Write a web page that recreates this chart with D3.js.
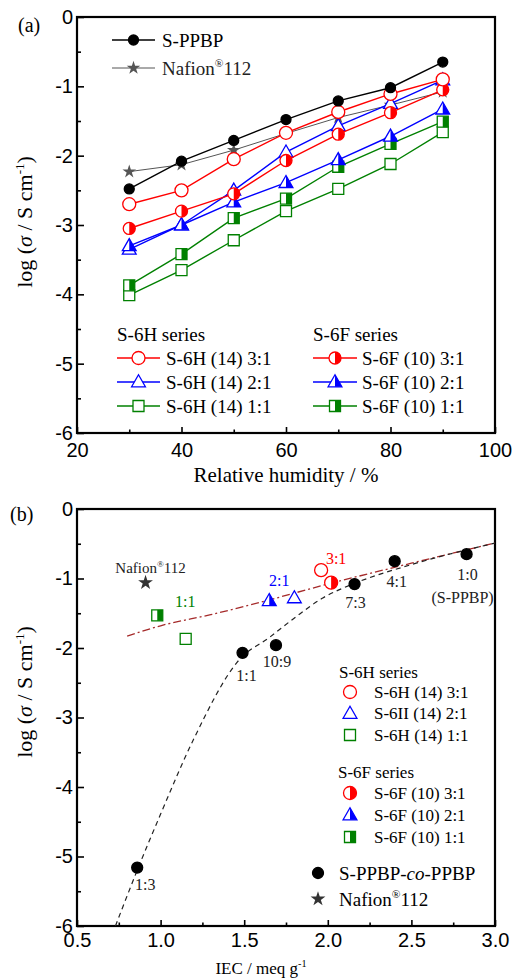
<!DOCTYPE html>
<html>
<head>
<meta charset="utf-8">
<script src="https://cdn.jsdelivr.net/npm/d3@7"></script>
<style>
  body { margin: 0; background: #fff; }
  svg { display: block; }
</style>
</head>
<body>
<script>
// ---- panel (a): conductivity vs relative humidity ----
const rh = [30, 40, 50, 60, 70, 80, 90];
const sPPBP = [-2.48, -2.08, -1.78, -1.48, -1.21, -1.02, -0.65];
const nafionA = [-2.23, -2.13, -1.92, -1.68, -1.45, -1.27, -1.08];
const h31 = [-2.70, -2.50, -2.05, -1.67, -1.37, -1.11, -0.90];
const f31 = [-3.05, -2.80, -2.55, -2.07, -1.69, -1.38, -1.05];
const h21 = [-3.35, -3.00, -2.50, -1.95, -1.57, -1.25, -0.91];
const f21 = [-3.30, -3.00, -2.67, -2.39, -2.06, -1.72, -1.33];
const h11 = [-4.01, -3.65, -3.22, -2.80, -2.48, -2.12, -1.66];
const f11 = [-3.87, -3.42, -2.90, -2.62, -2.16, -1.83, -1.51];

// ---- panel (b): conductivity vs IEC ----
const coRatio = ['1:3', '1:1', '10:9', '7:3', '4:1', '1:0'];
const coIEC = [0.86, 1.49, 1.69, 2.16, 2.40, 2.83];
const coLog = [-5.16, -2.07, -1.96, -1.08, -0.75, -0.65];
const hRatio = ['3:1', '2:1', '1:1'];
const hIEC = [1.96, 1.80, 1.15];
const hLog = [-0.88, -1.28, -1.87];
const fIEC = [2.02, 1.65, 0.98];
const fLog = [-1.06, -1.32, -1.53];
const nafionIEC = 0.91;
const nafionLog = -1.06;
// fit curves
const fitCoIEC = [0.73, 0.86, 1.0, 1.2, 1.47, 1.65, 1.81, 1.97, 2.16, 2.5, 3.0];
const fitCoLog = [-6.0, -5.2, -4.39, -3.3, -2.17, -1.85, -1.55, -1.28, -1.07, -0.8, -0.49];
const fitSeIEC = [0.8, 1.0, 1.3, 1.6, 2.0, 2.5, 3.0];
const fitSeLog = [-1.83, -1.68, -1.52, -1.34, -1.08, -0.78, -0.49];

const RED = '#ff0000', BLUE = '#0000ff', GREEN = '#008000';
const W = 512, H = 980;

const svg = d3.select('body').append('svg')
  .attr('width', W).attr('height', H)
  .style('font-family', '"Liberation Serif", "Times New Roman", serif');

const shapePath = {
  circle: r => `M${-r},0A${r},${r} 0 1,0 ${r},0A${r},${r} 0 1,0 ${-r},0Z`,
  triangle: r => `M0,${-r * 1.2}L${r * 1.15},${r * 0.8}L${-r * 1.15},${r * 0.8}Z`,
  square: r => `M${-r},${-r}H${r}V${r}H${-r}Z`
};
const halfPath = {
  circle: r => `M0,${-r}A${r},${r} 0 0,1 0,${r}Z`,
  triangle: r => `M0,${-r * 1.2}L${r * 1.15},${r * 0.8}L0,${r * 0.8}Z`,
  square: r => `M0,${-r}H${r}V${r}H0Z`
};

function marker(g, x, y, shape, color, fill, r) {
  let m = g.append('g').attr('transform', `translate(${x},${y})`);
  if (shape === 'star') {
    m.append('path').attr('d', d3.symbol(d3.symbolStar, r * r * 1.9)())
      .attr('fill', color);
    return;
  }
  m.append('path').attr('d', shapePath[shape](r))
    .attr('fill', fill === 'full' ? color : '#fff');
  if (fill === 'half') {
    m.append('path').attr('d', halfPath[shape](r)).attr('fill', color);
  }
  m.append('path').attr('d', shapePath[shape](r))
    .attr('fill', 'none').attr('stroke', color).attr('stroke-width', 1.3);
}

function label(g, x, y, txt, size, opts = {}) {
  return g.append('text').attr('x', x).attr('y', y)
    .attr('font-size', size)
    .attr('text-anchor', opts.anchor || 'start')
    .attr('fill', opts.color || '#000')
    .text(txt);
}

function supText(t, base, sup, rest, size) {
  t.append('tspan').text(base);
  t.append('tspan').attr('dy', -size * 0.4).attr('font-size', size * 0.6).text(sup);
  if (rest) t.append('tspan').attr('dy', size * 0.4).text(rest);
}

function drawAxes(x, y, xMajor, xMinor, xFmt, xPad) {
  let [x0, x1] = x.range(), [y0, y1] = y.range();
  let g = svg.append('g');
  g.append('g').attr('transform', `translate(0,${y0})`)
    .call(d3.axisBottom(x).tickValues(xMajor).tickSizeInner(-6).tickSizeOuter(0)
      .tickPadding(xPad).tickFormat(xFmt));
  g.append('g').attr('transform', `translate(0,${y0})`)
    .call(d3.axisBottom(x).tickValues(xMinor).tickSizeInner(-3.5).tickSizeOuter(0)
      .tickFormat(''))
    .select('.domain').remove();
  g.append('g').attr('transform', `translate(${x0},0)`)
    .call(d3.axisLeft(y).tickValues(d3.range(-6, 1)).tickSizeInner(-7).tickSizeOuter(0)
      .tickPadding(4).tickFormat(d => String(d)));
  g.append('g').attr('transform', `translate(${x0},0)`)
    .call(d3.axisLeft(y).tickValues(d3.range(-5.5, 0, 1)).tickSizeInner(-4).tickSizeOuter(0)
      .tickFormat(''))
    .select('.domain').remove();
  g.selectAll('text').attr('font-size', 20).attr('font-family', null).attr('fill', '#000');
  g.selectAll('line').attr('stroke-width', 1.6);
  g.selectAll('.domain').remove();
  g.append('rect').attr('x', x0).attr('y', y1)
    .attr('width', x1 - x0).attr('height', y0 - y1)
    .attr('fill', 'none').attr('stroke', '#000').attr('stroke-width', 2.2);
  return g;
}

function yTitle(cy) {
  let t = svg.append('text')
    .attr('transform', `translate(32,${cy}) rotate(-90)`)
    .attr('text-anchor', 'middle').attr('font-size', 22);
  t.append('tspan').text('log (');
  t.append('tspan').attr('font-style', 'italic').text('σ');
  t.append('tspan').text(' / S cm');
  t.append('tspan').attr('dy', -8).attr('font-size', 13).text('-1');
  t.append('tspan').attr('dy', 8).text(')');
}

// ================= panel (a) =================
const xA = d3.scaleLinear().domain([20, 100]).range([77, 495]);
const yA = d3.scaleLinear().domain([-6, 0]).range([433, 17]);

drawAxes(xA, yA, [20, 40, 60, 80, 100], [30, 50, 70, 90], d3.format('d'), 10);
yTitle(222);
label(svg, 286, 482, 'Relative humidity / %', 21, { anchor: 'middle' });
label(svg, 18, 32, '(a)', 20);

// order = drawing order (Nafion underneath)
const seriesA = [
  { name: 'Nafion', v: nafionA, color: '#555', shape: 'star', fill: 'full', r: 5.5, w: 1 },
  { name: 'S-6H (14) 1:1', v: h11, color: GREEN, shape: 'square', fill: 'open', r: 5.5 },
  { name: 'S-6F (10) 1:1', v: f11, color: GREEN, shape: 'square', fill: 'half', r: 5.5 },
  { name: 'S-6H (14) 2:1', v: h21, color: BLUE, shape: 'triangle', fill: 'open', r: 6 },
  { name: 'S-6F (10) 2:1', v: f21, color: BLUE, shape: 'triangle', fill: 'half', r: 6 },
  { name: 'S-6F (10) 3:1', v: f31, color: RED, shape: 'circle', fill: 'half', r: 6 },
  { name: 'S-6H (14) 3:1', v: h31, color: RED, shape: 'circle', fill: 'open', r: 6.5 },
  { name: 'S-PPBP', v: sPPBP, color: '#000', shape: 'circle', fill: 'full', r: 5 }
];

const lineA = d3.line().x((d, i) => xA(rh[i])).y(d => yA(d));
const gA = svg.append('g');
seriesA.forEach(s => {
  gA.append('path').attr('d', lineA(s.v)).attr('fill', 'none')
    .attr('stroke', s.color).attr('stroke-width', s.w || 1.4);
  s.v.forEach((d, i) => marker(gA, xA(rh[i]), yA(d), s.shape, s.color, s.fill, s.r));
});

// legends (a)
function legLine(g, x0, x1, y, s) {
  g.append('line').attr('x1', x0).attr('x2', x1).attr('y1', y).attr('y2', y)
    .attr('stroke', s.color).attr('stroke-width', s.w || 1.6);
  marker(g, (x0 + x1) / 2, y, s.shape, s.color, s.fill, s.r);
}
const legA = svg.append('g');
legLine(legA, 112, 155, 40, seriesA[7]);
label(legA, 162, 40, 'S-PPBP', 19).attr('dy', '0.35em');
legLine(legA, 112, 155, 68, seriesA[0]);
supText(label(legA, 162, 68, '', 19).attr('dy', '0.35em').attr('fill', '#222'), 'Nafion', '®', '112', 19);

label(legA, 117, 334, 'S-6H series', 19).attr('dy', '0.35em');
label(legA, 313, 334, 'S-6F series', 19).attr('dy', '0.35em');
const legRowsA = [[6, 5], [3, 4], [1, 2]];
legRowsA.forEach((pair, k) => {
  let y = 358 + k * 24;
  let sh = seriesA[pair[0]], sf = seriesA[pair[1]];
  legLine(legA, 117, 160, y, sh);
  label(legA, 166, y, sh.name, 19).attr('dy', '0.35em');
  legLine(legA, 313, 357, y, sf);
  label(legA, 362, y, sf.name, 19).attr('dy', '0.35em');
});

// ================= panel (b) =================
const xB = d3.scaleLinear().domain([0.5, 3.0]).range([77, 495]);
const yB = d3.scaleLinear().domain([-6, 0]).range([926, 509]);

drawAxes(xB, yB, [0.5, 1.0, 1.5, 2.0, 2.5, 3.0], [0.75, 1.25, 1.75, 2.25, 2.75], d3.format('.1f'), 7);
yTitle(692);
supText(label(svg, 261, 974, '', 17, { anchor: 'middle' }), 'IEC / meq g', '-1', null, 17);
label(svg, 10, 521, '(b)', 20);

svg.append('clipPath').attr('id', 'clipB').append('rect')
  .attr('x', 77).attr('y', 509).attr('width', 418).attr('height', 417);

const gB = svg.append('g');
const fitLine = d3.line().curve(d3.curveMonotoneX);
gB.append('path').attr('clip-path', 'url(#clipB)')
  .attr('d', fitLine(fitSeIEC.map((d, i) => [xB(d), yB(fitSeLog[i])])))
  .attr('fill', 'none').attr('stroke', '#a52a2a').attr('stroke-width', 1.3)
  .attr('stroke-dasharray', '8,3,2,3');
gB.append('path').attr('clip-path', 'url(#clipB)')
  .attr('d', fitLine(fitCoIEC.map((d, i) => [xB(d), yB(fitCoLog[i])])))
  .attr('fill', 'none').attr('stroke', '#222').attr('stroke-width', 1.2)
  .attr('stroke-dasharray', '5,4');

const hShapes = [
  { shape: 'circle', color: RED, r: 6.5 },
  { shape: 'triangle', color: BLUE, r: 6 },
  { shape: 'square', color: GREEN, r: 5.5 }
];
hIEC.forEach((d, i) => marker(gB, xB(d), yB(hLog[i]), hShapes[i].shape, hShapes[i].color, 'open', hShapes[i].r));
fIEC.forEach((d, i) => marker(gB, xB(d), yB(fLog[i]), hShapes[i].shape, hShapes[i].color, 'half', hShapes[i].r));
coIEC.forEach((d, i) => marker(gB, xB(d), yB(coLog[i]), 'circle', '#000', 'full', 5.5));
marker(gB, xB(nafionIEC), yB(nafionLog), 'star', '#333', 'full', 6);

// point annotations
const coLabelOff = [[8, 22], [4, 28], [1, 22], [1, 24], [2, 26], [1, 26]];
coRatio.forEach((t, i) => {
  label(gB, xB(coIEC[i]) + coLabelOff[i][0], yB(coLog[i]) + coLabelOff[i][1], t, 16, { anchor: 'middle', color: '#222' });
});
label(gB, xB(coIEC[5]) - 4, yB(coLog[5]) + 49, '(S-PPBP)', 16, { anchor: 'middle', color: '#222' });
const ratioOff = [[15, -6], [10, -15], [28, -8]];
hRatio.forEach((t, i) => {
  let px = i === 0 ? xB(hIEC[i]) : xB(fIEC[i]);
  let py = i === 0 ? yB(hLog[i]) : yB(fLog[i]);
  label(gB, px + ratioOff[i][0], py + ratioOff[i][1], t, 16, { anchor: 'middle', color: hShapes[i].color });
});
supText(label(gB, xB(nafionIEC) + 5, yB(nafionLog) - 10, '', 15, { anchor: 'middle', color: '#222' }), 'Nafion', '®', '112', 15);

// legend (b)
const legB = svg.append('g');
label(legB, 339, 672, 'S-6H series', 17).attr('dy', '0.35em');
hShapes.forEach((s, i) => {
  let y = 692 + i * 21.5;
  marker(legB, 350, y, s.shape, s.color, 'open', s.r);
  label(legB, 374, y, ['S-6H (14) 3:1', 'S-6II (14) 2:1', 'S-6H (14) 1:1'][i], 17).attr('dy', '0.35em');
});
label(legB, 338, 772, 'S-6F series', 17).attr('dy', '0.35em');
hShapes.forEach((s, i) => {
  let y = 793 + i * 22;
  marker(legB, 350, y, s.shape, s.color, 'half', s.r);
  label(legB, 374, y, ['S-6F (10) 3:1', 'S-6F (10) 2:1', 'S-6F (10) 1:1'][i], 17).attr('dy', '0.35em');
});
marker(legB, 318, 873, 'circle', '#000', 'full', 5.5);
let coT = label(legB, 339, 873, '', 19).attr('dy', '0.35em');
coT.append('tspan').text('S-PPBP-');
coT.append('tspan').attr('font-style', 'italic').text('co');
coT.append('tspan').text('-PPBP');
marker(legB, 318, 899, 'star', '#333', 'full', 6);
supText(label(legB, 339, 899, '', 19).attr('dy', '0.35em'), 'Nafion', '®', '112', 19);
</script>
</body>
</html>
